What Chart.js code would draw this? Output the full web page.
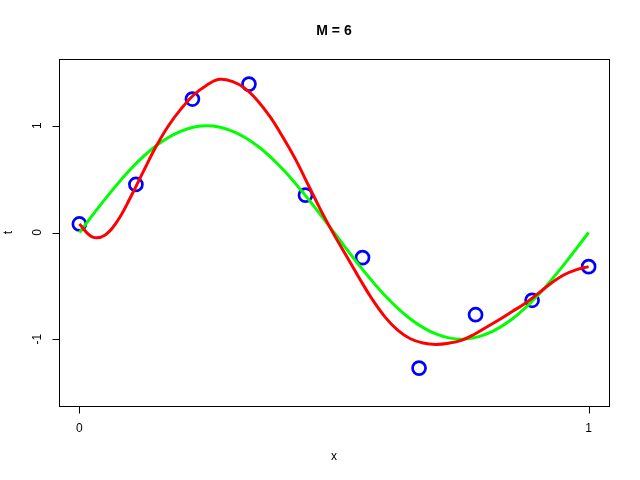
<!DOCTYPE html>
<html>
<head>
<meta charset="utf-8">
<title>M = 6</title>
<script src="https://cdn.jsdelivr.net/npm/chart.js@4.4.1/dist/chart.umd.min.js"></script>
<style>
  body { margin: 0; background: #fff; }
  canvas { display: block; }
</style>
</head>
<body>
<canvas id="chart" width="640" height="480"></canvas>
<script>
// observed points
var obsX = [0, 0.111, 0.222, 0.333, 0.444, 0.556, 0.667, 0.778, 0.889, 1];
var obsT = [0.08, 0.45, 1.25, 1.39, 0.35, -0.235, -1.27, -0.77, -0.635, -0.32];

// green curve (true function)
var greenX = [0, 0.05, 0.1, 0.15, 0.2, 0.25, 0.3, 0.35, 0.4, 0.45, 0.5,
              0.55, 0.6, 0.65, 0.7, 0.75, 0.8, 0.85, 0.9, 0.95, 1];
var greenT = [0, 0.31, 0.59, 0.81, 0.95, 1.0, 0.95, 0.81, 0.59, 0.31, 0,
              -0.31, -0.59, -0.81, -0.95, -1.0, -0.95, -0.81, -0.59, -0.31, 0];

// red curve (M = 6 fit), every 0.025
var redX = [0, 0.025, 0.05, 0.075, 0.1, 0.125, 0.15, 0.175, 0.2, 0.225,
            0.25, 0.275, 0.3, 0.325, 0.35, 0.375, 0.4, 0.425, 0.45, 0.475,
            0.5, 0.525, 0.55, 0.575, 0.6, 0.625, 0.65, 0.675, 0.7, 0.725,
            0.75, 0.775, 0.8, 0.825, 0.85, 0.875, 0.9, 0.925, 0.95, 0.975, 1];
var redT = [0.08, -0.04, -0.025, 0.11, 0.325, 0.565, 0.80, 1.00, 1.16, 1.29,
            1.38, 1.435, 1.415, 1.35, 1.235, 1.08, 0.89, 0.68, 0.44, 0.20,
            -0.02, -0.225, -0.43, -0.625, -0.79, -0.915, -0.995, -1.035, -1.048, -1.037,
            -1.01, -0.955, -0.885, -0.815, -0.74, -0.665, -0.575, -0.48, -0.40, -0.35, -0.32];

var xTicks = [0, 1];
var yTicks = [-1, 0, 1];

function pts(xs, ys) {
  return xs.map(function (x, i) { return { x: x, y: ys[i] }; });
}

var FONT = '"Liberation Sans", Arial, Helvetica, sans-serif';

// R style box, axes, labels and title
var rAxes = {
  id: 'rAxes',
  afterDraw: function (chart) {
    var ctx = chart.ctx, a = chart.chartArea;
    var xs = chart.scales.x, ys = chart.scales.y;
    ctx.save();
    ctx.strokeStyle = '#000';
    ctx.lineWidth = 1;
    ctx.strokeRect(Math.round(a.left) + 0.5, Math.round(a.top) + 0.5,
                   Math.round(a.right - a.left), Math.round(a.bottom - a.top));

    ctx.fillStyle = '#000';
    ctx.font = '12px ' + FONT;
    ctx.textAlign = 'center';
    ctx.textBaseline = 'middle';

    // x axis
    var by = Math.round(a.bottom) + 0.5;
    ctx.beginPath();
    ctx.moveTo(xs.getPixelForValue(xTicks[0]), by);
    ctx.lineTo(xs.getPixelForValue(xTicks[xTicks.length - 1]), by);
    xTicks.forEach(function (v) {
      var px = Math.round(xs.getPixelForValue(v)) + 0.5;
      ctx.moveTo(px, by);
      ctx.lineTo(px, by + 7);
    });
    ctx.stroke();
    xTicks.forEach(function (v) {
      ctx.fillText(String(v), xs.getPixelForValue(v), by + 22);
    });

    // y axis
    var lx = Math.round(a.left) + 0.5;
    ctx.beginPath();
    ctx.moveTo(lx, ys.getPixelForValue(yTicks[0]));
    ctx.lineTo(lx, ys.getPixelForValue(yTicks[yTicks.length - 1]));
    yTicks.forEach(function (v) {
      var py = Math.round(ys.getPixelForValue(v)) + 0.5;
      ctx.moveTo(lx, py);
      ctx.lineTo(lx - 7, py);
    });
    ctx.stroke();
    yTicks.forEach(function (v) {
      ctx.save();
      ctx.translate(lx - 22, ys.getPixelForValue(v));
      ctx.rotate(-Math.PI / 2);
      ctx.fillText(String(v), 0, 0);
      ctx.restore();
    });

    // axis titles
    var cx = (a.left + a.right) / 2, cy = (a.top + a.bottom) / 2;
    ctx.fillText('x', cx, 457);
    ctx.save();
    ctx.translate(9, cy);
    ctx.rotate(-Math.PI / 2);
    ctx.fillText('t', 0, 0);
    ctx.restore();

    // title
    ctx.font = 'bold 14px ' + FONT;
    ctx.fillText('M = 6', cx, 31);
    ctx.restore();
  }
};

new Chart(document.getElementById('chart'), {
  type: 'scatter',
  data: {
    datasets: [{
      label: 'fit',
      data: pts(redX, redT),
      showLine: true,
      borderColor: '#ff0000',
      borderWidth: 3,
      pointRadius: 0,
      tension: 0.4,
      order: 0
    }, {
      label: 'sin',
      data: pts(greenX, greenT),
      showLine: true,
      borderColor: '#00ff00',
      borderWidth: 3,
      pointRadius: 0,
      cubicInterpolationMode: 'monotone',
      order: 1
    }, {
      label: 'data',
      data: pts(obsX, obsT),
      showLine: false,
      pointStyle: 'circle',
      pointRadius: 6.5,
      pointBorderWidth: 2.7,
      pointBorderColor: '#0000ff',
      pointBackgroundColor: 'rgba(0,0,0,0)',
      order: 2
    }]
  },
  options: {
    responsive: false,
    animation: false,
    events: [],
    layout: { padding: { left: 0, right: 31, top: 59, bottom: 0 } },
    plugins: {
      legend: { display: false },
      tooltip: { enabled: false },
      title: { display: false }
    },
    scales: {
      x: {
        type: 'linear',
        min: -0.04,
        max: 1.04,
        grid: { display: false },
        border: { display: false },
        ticks: { display: false },
        afterFit: function (s) { s.height = 74; }
      },
      y: {
        type: 'linear',
        min: -1.625,
        max: 1.625,
        grid: { display: false },
        border: { display: false },
        ticks: { display: false },
        afterFit: function (s) { s.width = 59; }
      }
    }
  },
  plugins: [rAxes]
});
</script>
</body>
</html>
